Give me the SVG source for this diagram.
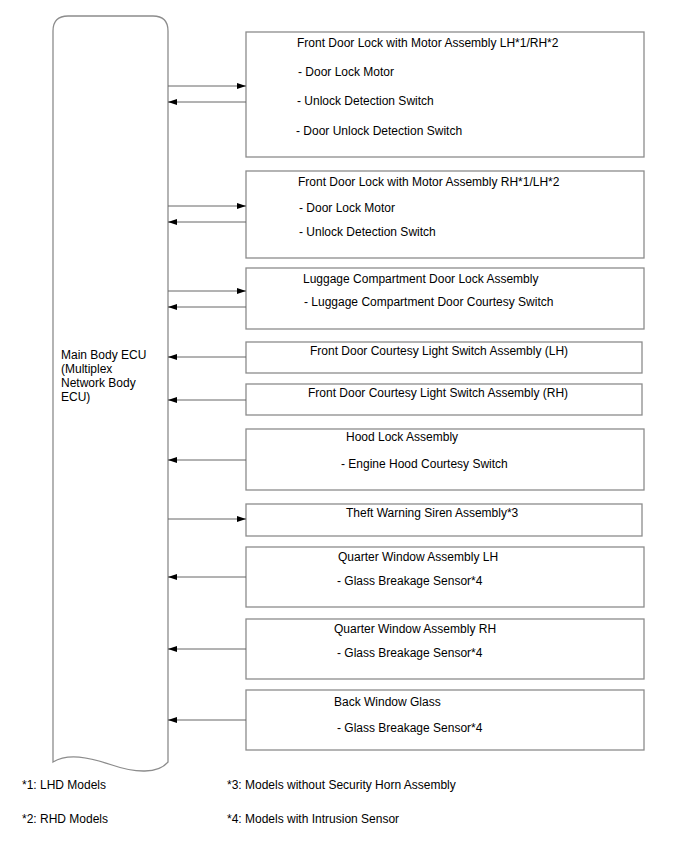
<svg xmlns="http://www.w3.org/2000/svg" width="688" height="852" viewBox="0 0 688 852">
<style>
.box{fill:#fff;stroke:#8c8c8c;stroke-width:1.3}
.ecu{fill:#fff;stroke:#8c8c8c;stroke-width:1.3}
.ln{stroke:#666;stroke-width:1;fill:none}
text{font-family:"Liberation Sans",Arial,sans-serif;font-size:12px;fill:#000}
</style>
<defs>
<marker id="ah" markerWidth="9" markerHeight="6" refX="9" refY="3" orient="auto" markerUnits="userSpaceOnUse">
<path d="M0,0 L9,3 L0,6 Z" fill="#000"/>
</marker>
</defs>
<rect width="688" height="852" fill="#fff"/>
<g id="ecu">
<path class="ecu" d="M53,762 L53,31 Q53,16 68,16 L153,16 Q168,16 168,31 L168,762 C158,774 135,773 112,765 C88,757 68,753 53,762 Z"/>
<text x="61" y="359">Main Body ECU</text>
<text x="61" y="373">(Multiplex</text>
<text x="61" y="387">Network Body</text>
<text x="61" y="401">ECU)</text>
</g>
<g id="n1">
<rect class="box" x="246" y="32" width="398" height="125"/>
<text x="297" y="47">Front Door Lock with Motor Assembly LH*1/RH*2</text>
<text x="298" y="76">- Door Lock Motor</text>
<text x="297" y="105">- Unlock Detection Switch</text>
<text x="296" y="135">- Door Unlock Detection Switch</text>
</g>
<g id="n2">
<rect class="box" x="246" y="171" width="398" height="87"/>
<text x="298" y="186">Front Door Lock with Motor Assembly RH*1/LH*2</text>
<text x="299" y="212">- Door Lock Motor</text>
<text x="299" y="236">- Unlock Detection Switch</text>
</g>
<g id="n3">
<rect class="box" x="246" y="268" width="398" height="61"/>
<text x="303" y="283">Luggage Compartment Door Lock Assembly</text>
<text x="304" y="306">- Luggage Compartment Door Courtesy Switch</text>
</g>
<g id="n4">
<rect class="box" x="246" y="342" width="396" height="31"/>
<text x="310" y="355">Front Door Courtesy Light Switch Assembly (LH)</text>
</g>
<g id="n5">
<rect class="box" x="246" y="384" width="396" height="31"/>
<text x="308" y="397">Front Door Courtesy Light Switch Assembly (RH)</text>
</g>
<g id="n6">
<rect class="box" x="246" y="429" width="398" height="61"/>
<text x="346" y="441">Hood Lock Assembly</text>
<text x="341" y="468">- Engine Hood Courtesy Switch</text>
</g>
<g id="n7">
<rect class="box" x="246" y="504" width="396" height="32"/>
<text x="346" y="517">Theft Warning Siren Assembly*3</text>
</g>
<g id="n8">
<rect class="box" x="246" y="547" width="398" height="60"/>
<text x="338" y="561">Quarter Window Assembly LH</text>
<text x="337" y="585">- Glass Breakage Sensor*4</text>
</g>
<g id="n9">
<rect class="box" x="246" y="619" width="398" height="60"/>
<text x="334" y="633">Quarter Window Assembly RH</text>
<text x="337" y="657">- Glass Breakage Sensor*4</text>
</g>
<g id="n10">
<rect class="box" x="246" y="690" width="398" height="60"/>
<text x="334" y="706">Back Window Glass</text>
<text x="337" y="732">- Glass Breakage Sensor*4</text>
</g>
<g id="connectors">
<line class="ln" x1="168" y1="86" x2="246" y2="86" marker-end="url(#ah)"/>
<line class="ln" x1="246" y1="102" x2="168" y2="102" marker-end="url(#ah)"/>
<line class="ln" x1="168" y1="206" x2="246" y2="206" marker-end="url(#ah)"/>
<line class="ln" x1="246" y1="222" x2="168" y2="222" marker-end="url(#ah)"/>
<line class="ln" x1="168" y1="291" x2="246" y2="291" marker-end="url(#ah)"/>
<line class="ln" x1="246" y1="307" x2="168" y2="307" marker-end="url(#ah)"/>
<line class="ln" x1="246" y1="357" x2="168" y2="357" marker-end="url(#ah)"/>
<line class="ln" x1="246" y1="400" x2="168" y2="400" marker-end="url(#ah)"/>
<line class="ln" x1="246" y1="460" x2="168" y2="460" marker-end="url(#ah)"/>
<line class="ln" x1="168" y1="519" x2="246" y2="519" marker-end="url(#ah)"/>
<line class="ln" x1="246" y1="577" x2="168" y2="577" marker-end="url(#ah)"/>
<line class="ln" x1="246" y1="649" x2="168" y2="649" marker-end="url(#ah)"/>
<line class="ln" x1="246" y1="720" x2="168" y2="720" marker-end="url(#ah)"/>
</g>
<g id="notes">
<text x="22" y="789">*1: LHD Models</text>
<text x="22" y="823">*2: RHD Models</text>
<text x="227" y="789">*3: Models without Security Horn Assembly</text>
<text x="227" y="823">*4: Models with Intrusion Sensor</text>
</g>
</svg>
